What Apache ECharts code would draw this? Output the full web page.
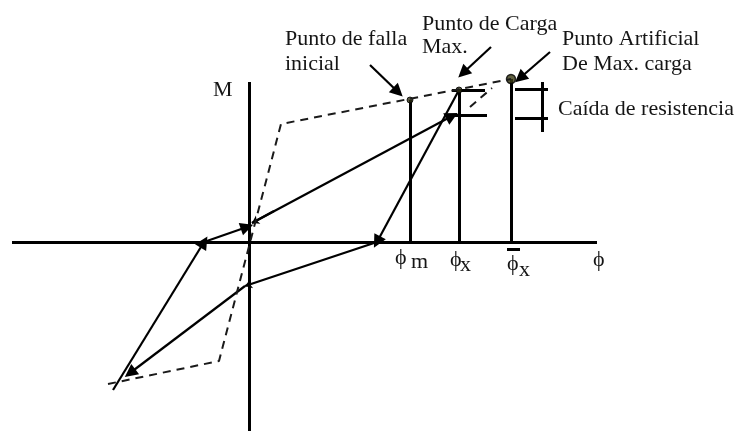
<!DOCTYPE html>
<html>
<head>
<meta charset="utf-8">
<script src="https://cdn.jsdelivr.net/npm/echarts@6/dist/echarts.min.js"></script>
<style>
html, body { margin: 0; padding: 0; background: #fff; }
#chart { width: 740px; height: 431px; }
</style>
</head>
<body>
<div id="chart"></div>
<script>
// unidades arbitrarias: phi (horizontal), M (vertical)
var ejePhi = [[-23.7, 0], [34.8, 0]]
var ejeM = [[0, -18.9], [0, 16.0]]
// envolvente (linea de trazos)
var envolvente = [[-14.1, -14.2], [-3.0, -11.9], [3.2, 11.8], [26.2, 16.3]]
var puntoFalla = [16.1, 14.2]
var puntoCargaMax = [21.0, 15.2]
var puntoArtificial = [26.2, 16.3]
// ciclo de histeresis (con flecha al final)
var ciclo = [
  [[21.0, 15.2], [12.8, 0]],
  [[-0.4, -4.4], [-11.9, -13.1]],
  [[-13.6, -14.8], [-4.5, 0]],
  [[-4.5, 0], [-0.2, 1.5]],
  [[0.3, 1.9], [20.3, 12.6]]
]
// tramos con flecha pequeña
var cicloFlechaChica = [
  [[12.8, 0], [-0.4, -4.4]],
  [[2.5, 3.1], [0.3, 1.9]]
]
var prolongacion = [[[22.1, 13.5], [24.3, 15.4]]]
var verticales = [
  [puntoFalla, [16.1, 0]],
  [puntoCargaMax, [21.0, 0]],
  [puntoArtificial, [26.2, 0]]
]
var barrasCaida = [
  [[20.3, 15.2], [23.6, 15.2]],
  [[19.9, 12.7], [23.8, 12.7]],
  [[26.6, 15.3], [29.9, 15.3]],
  [[26.6, 12.4], [29.9, 12.4]],
  [[29.3, 16.0], [29.3, 11.0]]
]
var punteros = [
  [[12.1, 17.7], [14.9, 15.0]],
  [[24.2, 19.5], [21.4, 16.9]],
  [[30.1, 19.0], [27.1, 16.4]]
]

var myChart = echarts.init(document.getElementById('chart'))

function segs (arr) {
  return arr.map(function (c) { return { coords: c } })
}

var fuente = '"Liberation Serif", "Times New Roman", serif'
function texto (t, x, y, size) {
  return {
    type: 'text', left: x, top: y,
    style: { text: t, fill: '#151515', font: (size || 22) + 'px ' + fuente }
  }
}

const option = {
  animation: false,
  grid: { left: 0, right: 0, top: 0, bottom: 0 },
  xAxis: { type: 'value', min: -24.9, max: 49.1, show: false },
  yAxis: { type: 'value', min: -18.9, max: 24.2, show: false },
  series: [
    {
      type: 'lines', coordinateSystem: 'cartesian2d',
      lineStyle: { color: '#000', width: 3, opacity: 1 },
      data: segs([ejePhi, ejeM])
    },
    {
      type: 'line', data: envolvente, symbol: 'none',
      lineStyle: { color: '#1a1a1a', width: 2, type: [8, 6] }
    },
    {
      type: 'lines', coordinateSystem: 'cartesian2d',
      lineStyle: { color: '#1a1a1a', width: 2, type: [8, 6], opacity: 1 },
      data: segs(prolongacion)
    },
    {
      type: 'lines', coordinateSystem: 'cartesian2d',
      lineStyle: { color: '#000', width: 3, opacity: 1 },
      data: segs(verticales.concat(barrasCaida))
    },
    {
      type: 'lines', coordinateSystem: 'cartesian2d',
      symbol: ['none', 'triangle'], symbolSize: [10, 13],
      lineStyle: { color: '#000', width: 2.2, opacity: 1 },
      data: segs(ciclo.concat(punteros))
    },
    {
      type: 'lines', coordinateSystem: 'cartesian2d',
      symbol: ['none', 'arrow'], symbolSize: [6, 7],
      lineStyle: { color: '#000', width: 2.2, opacity: 1 },
      data: segs(cicloFlechaChica)
    },
    {
      type: 'scatter', symbolSize: 6,
      itemStyle: { color: '#2a2a10', borderColor: '#000', borderWidth: 1 },
      data: [puntoFalla, puntoCargaMax]
    },
    {
      type: 'scatter', symbolSize: 9,
      itemStyle: { color: '#3a3a12', borderColor: '#000', borderWidth: 1.5 },
      data: [puntoArtificial]
    }
  ],
  graphic: [
    texto('Punto de falla', 285, 28),
    texto('inicial', 285, 53),
    texto('Punto de Carga', 422, 13),
    texto('Max.', 422, 36),
    texto('Punto Artificial', 562, 28),
    texto('De Max. carga', 562, 53),
    texto('Caída de resistencia', 558, 98),
    texto('M', 213, 79),
    texto('ϕ', 395, 247),
    texto('m', 411, 251),
    texto('ϕ', 450, 249),
    texto('x', 460, 254),
    { type: 'rect', left: 507, top: 248, shape: { width: 13, height: 3 }, style: { fill: '#000' } },
    texto('ϕ', 507, 253),
    texto('x', 519, 259),
    texto('ϕ', 593, 249)
  ]
}

myChart.setOption(option)
</script>
</body>
</html>
